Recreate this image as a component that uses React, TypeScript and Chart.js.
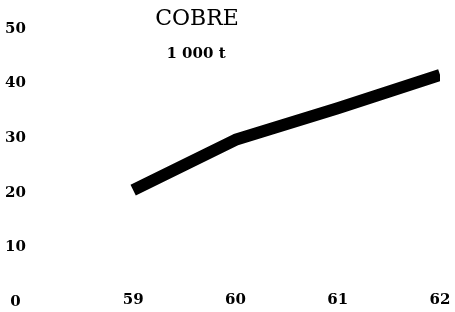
import React, { useEffect, useRef } from 'react';
import { Chart, registerables } from 'chart.js';

Chart.register(...registerables);

const years = [59, 60, 61, 62];
const copper = [20.5, 29.7, 35.5, 41.6];
const yTicks = [0, 10, 20, 30, 40, 50];
const titleText = 'COBRE';
const unitText = '1 000 t';

const labelFont = { family: 'DejaVu Serif', weight: 'bold' as const, size: 15 };

export default function App() {
  const ref = useRef<HTMLCanvasElement>(null);
  useEffect(() => {
    const chart = new Chart(ref.current!, {
      type: 'line',
      data: {
        datasets: [
          {
            data: years.map((y, i) => ({ x: y, y: copper[i] })),
            borderColor: '#000',
            borderWidth: 12,
            borderCapStyle: 'butt',
            borderJoinStyle: 'round',
            pointRadius: 0,
            tension: 0,
            fill: false,
          },
        ],
      },
      options: {
        animation: false,
        responsive: false,
        maintainAspectRatio: false,
        layout: { padding: { top: 29, left: 0, right: 15, bottom: 10 } },
        plugins: { legend: { display: false }, tooltip: { enabled: false } },
        scales: {
          x: {
            type: 'linear',
            position: { y: 0 },
            min: 58,
            max: 62,
            grid: { display: false, drawTicks: false },
            border: { display: false },
            afterBuildTicks: (axis: any) => {
              axis.ticks = years.map((v) => ({ value: v }));
            },
            ticks: {
              padding: -11,
              font: labelFont,
              color: '#000',
              maxRotation: 0,
              autoSkip: false,
            },
          },
          y: {
            type: 'linear',
            position: 'left',
            min: 0,
            max: 50,
            grid: { display: false, drawTicks: false },
            border: { display: false },
            afterBuildTicks: (axis: any) => {
              axis.ticks = yTicks.map((v) => ({ value: v }));
            },
            afterFit: (axis: any) => {
              axis.paddingBottom = 0;
            },
            ticks: {
              padding: 5,
              crossAlign: 'center',
              font: labelFont,
              color: '#000',
            },
          },
        },
      },
    } as any);
    return () => chart.destroy();
  }, []);

  return (
    <div style={{ position: 'fixed', left: 0, top: 0, width: 455, height: 312, background: '#fff' }}>
      <canvas ref={ref} width={455} height={312} style={{ display: 'block' }} />
      <div
        style={{
          position: 'absolute',
          left: 197,
          top: 18,
          transform: 'translate(-50%, -50%)',
          fontFamily: 'DejaVu Serif',
          fontSize: 22,
          lineHeight: 1,
          color: '#000',
          whiteSpace: 'nowrap',
        }}
      >
        {titleText}
      </div>
      <div
        style={{
          position: 'absolute',
          left: 196,
          top: 53,
          transform: 'translate(-50%, -50%)',
          fontFamily: 'DejaVu Serif',
          fontWeight: 'bold',
          fontSize: 15,
          lineHeight: 1,
          color: '#000',
          whiteSpace: 'pre',
        }}
      >
        {unitText}
      </div>
    </div>
  );
}
